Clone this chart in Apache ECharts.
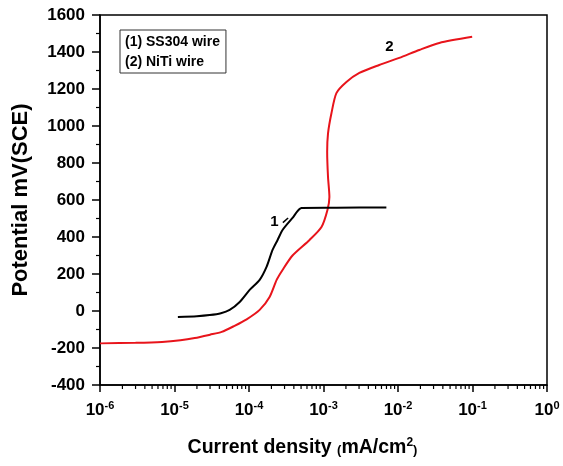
<!DOCTYPE html>
<html>
<head>
<meta charset="utf-8">
<script src="https://cdn.jsdelivr.net/npm/echarts@6/dist/echarts.min.js"></script>
<style>
  html, body { margin: 0; padding: 0; background: #fff; }
  #chart { width: 563px; height: 466px; }
</style>
</head>
<body>
<div id="chart"></div>
<script>
// Polarisation curves: [current density mA/cm2, potential mV]
const ss304Curve = [
  [1.11e-5, -32], [2.0e-5, -28], [2.97e-5, -22], [4.2e-5, -12], [5.5e-5, 6],
  [7.5e-5, 49], [1.02e-4, 114], [1.39e-4, 168], [1.72e-4, 238],
  [2.07e-4, 330], [2.42e-4, 384], [2.82e-4, 438], [3.84e-4, 503],
  [5.07e-4, 557], [1.5e-3, 558], [6.98e-3, 560]
];
const nitiCurve = [
  [1.0e-6, -175], [3.0e-6, -172], [6.8e-6, -167], [1.2e-5, -158],
  [1.87e-5, -146], [3.0e-5, -128], [4.3e-5, -113], [6.4e-5, -80],
  [9.3e-5, -45], [1.39e-4, 6], [1.89e-4, 76], [2.35e-4, 168],
  [2.82e-4, 222], [3.84e-4, 300], [6.5e-4, 384], [9.4e-4, 454],
  [1.13e-3, 546], [1.2e-3, 616], [1.15e-3, 724], [1.12e-3, 860],
  [1.15e-3, 960], [1.28e-3, 1070], [1.49e-3, 1178], [2.03e-3, 1238],
  [3.03e-3, 1287], [5.6e-3, 1330], [1.04e-2, 1368], [1.93e-2, 1411],
  [3.58e-2, 1449], [9.9e-2, 1482]
];
const seriesNames = ['(1) SS304 wire', '(2) NiTi wire'];
const curveTags = ['1', '2'];
const tagPositions = [[2.2e-4, 481], [7.66e-3, 1427]];
const yTicks = { min: -400, max: 1600, step: 200 };
const xRange = { min: 1e-6, max: 1 };
const minorMultipliers = [2, 3, 4, 5, 6, 7, 8, 9];
const decades = [-6, -5, -4, -3, -2, -1];

const FONT = 'Liberation Sans, Arial, sans-serif';

const minorTickData = [];
decades.forEach(d => {
  minorMultipliers.forEach(m => minorTickData.push([m * Math.pow(10, d), yTicks.min]));
});

const chart = echarts.init(document.getElementById('chart'), null, { renderer: 'canvas' });

chart.setOption({
  backgroundColor: '#fff',
  animation: false,
  textStyle: { fontFamily: FONT },
  grid: {
    left: 100, right: 16, top: 15, bottom: 81,
    show: true, borderColor: '#000', borderWidth: 1.5,
    containLabel: false, outerBoundsMode: 'none'
  },
  legend: {
    data: seriesNames,
    orient: 'vertical',
    left: 120, top: 30,
    padding: [5, 6, 4, 0],
    itemGap: 6,
    itemWidth: 0, itemHeight: 0,
    icon: 'rect',
    borderColor: '#333', borderWidth: 1,
    selectedMode: false,
    textStyle: { color: '#000', fontWeight: 'bold', fontSize: 14, fontFamily: FONT }
  },
  xAxis: {
    type: 'log',
    logBase: 10,
    min: xRange.min,
    max: xRange.max,
    interval: 1,
    name: '{t|Current density }{p|(}{t|mA/cm}{s|2}{p|)}',
    nameLocation: 'middle',
    nameGap: 52,
    nameTextStyle: {
      padding: [0, 42, 0, 0],
      rich: {
        t: { fontSize: 19.5, fontWeight: 'bold', color: '#000', fontFamily: FONT },
        p: { fontSize: 13, fontWeight: 'bold', color: '#000', fontFamily: FONT, padding: [4, 0, 0, 0] },
        s: { fontSize: 12, fontWeight: 'bold', color: '#000', fontFamily: FONT, padding: [0, 0, 10, 0] }
      }
    },
    axisLine: { show: true, onZero: false, lineStyle: { color: '#000', width: 1.5 } },
    axisTick: { show: true, length: 7, lineStyle: { color: '#000', width: 1.5 } },
    minorTick: { show: false },
    splitLine: { show: false },
    axisLabel: {
      margin: 15,
      formatter: v => `{b|10}{s|${Math.round(Math.log10(v))}}`,
      rich: {
        b: { fontSize: 17, fontWeight: 'bold', color: '#000', fontFamily: FONT },
        s: { fontSize: 11, fontWeight: 'bold', color: '#000', fontFamily: FONT, padding: [0, 0, 10, 0] }
      }
    }
  },
  yAxis: {
    type: 'value',
    min: yTicks.min,
    max: yTicks.max,
    interval: yTicks.step,
    name: 'Potential mV(SCE)',
    nameLocation: 'middle',
    nameGap: 68,
    nameRotate: 90,
    nameTextStyle: { fontSize: 22, fontWeight: 'bold', color: '#000', fontFamily: FONT },
    axisLine: { show: true, onZero: false, lineStyle: { color: '#000', width: 1.5 } },
    axisTick: { show: true, length: 8, lineStyle: { color: '#000', width: 1.5 } },
    minorTick: { show: true, splitNumber: 2, length: 4, lineStyle: { color: '#000', width: 1.2 } },
    splitLine: { show: false },
    axisLabel: {
      margin: 15, fontSize: 17, fontWeight: 'bold', color: '#000', fontFamily: FONT,
      formatter: v => String(v)
    }
  },
  series: [
    {
      name: seriesNames[0],
      type: 'line',
      data: ss304Curve,
      smooth: 0.25,
      showSymbol: false,
      lineStyle: { color: '#000', width: 2 },
      itemStyle: { color: '#000' },
      markPoint: {
        symbol: 'circle', symbolSize: 0,
        label: { show: true, formatter: curveTags[0], color: '#000', fontSize: 15, fontWeight: 'bold', fontFamily: FONT },
        data: [{ coord: tagPositions[0] }]
      },
      markLine: {
        symbol: 'none', silent: true,
        label: { show: false },
        lineStyle: { color: '#000', width: 1.5, type: 'solid' },
        data: [[{ coord: [2.85e-4, 478] }, { coord: [3.35e-4, 503] }]]
      },
      z: 3
    },
    {
      name: seriesNames[1],
      type: 'line',
      data: nitiCurve,
      smooth: 0.25,
      showSymbol: false,
      lineStyle: { color: '#e8141b', width: 2 },
      itemStyle: { color: '#e8141b' },
      markPoint: {
        symbol: 'circle', symbolSize: 0,
        label: { show: true, formatter: curveTags[1], color: '#000', fontSize: 15, fontWeight: 'bold', fontFamily: FONT },
        data: [{ coord: tagPositions[1] }]
      },
      z: 2
    },
    {
      name: 'minor',
      type: 'custom',
      silent: true,
      clip: false,
      data: minorTickData,
      renderItem: (params, api) => {
        const p = api.coord([api.value(0), api.value(1)]);
        return {
          type: 'line',
          shape: { x1: p[0], y1: p[1], x2: p[0], y2: p[1] + 4 },
          style: { stroke: '#000', lineWidth: 1.2 }
        };
      }
    }
  ]
});
</script>
</body>
</html>
